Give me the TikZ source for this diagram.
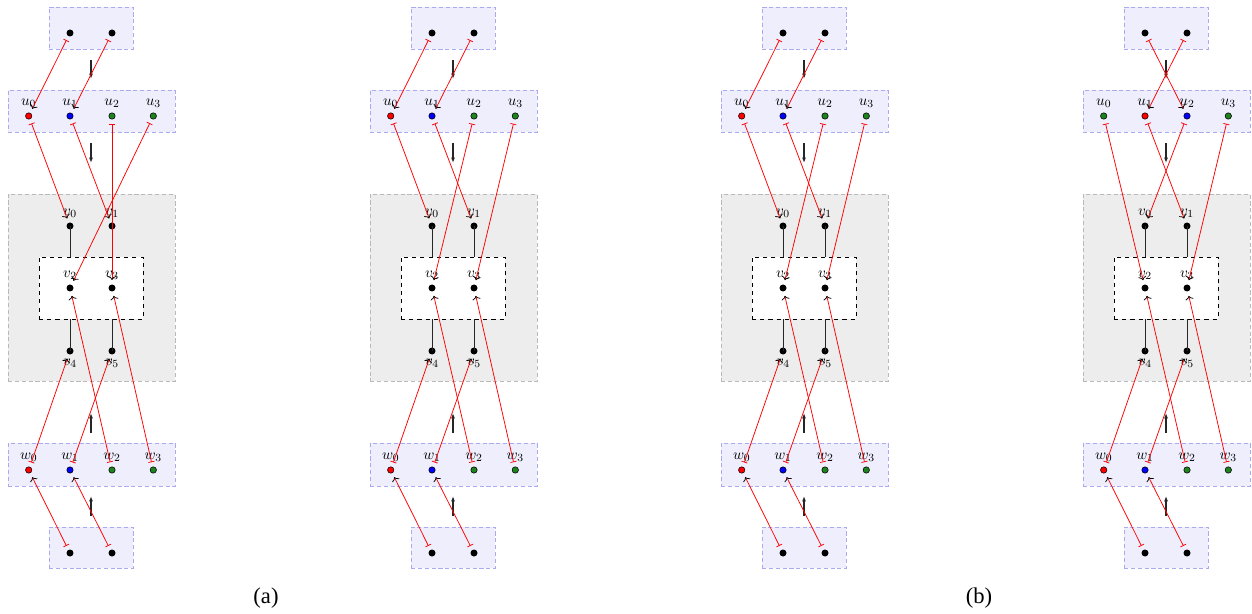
\documentclass[tikz,border=0pt]{standalone}
\usepackage[no-math]{fontspec}
\setmainfont{Liberation Serif}
\usetikzlibrary{arrows.meta}
\newcommand\PX{0.73pt}
\definecolor{boxfill}{RGB}{238,238,252}
\definecolor{boxline}{RGB}{170,170,240}
\definecolor{grayfill}{RGB}{237,237,237}
\definecolor{grayline}{RGB}{185,185,185}
\definecolor{dgreen}{RGB}{30,130,30}
\tikzset{
 lbox/.style={draw=boxline, densely dashed, fill=boxfill, line width=0.5pt, inner sep=0},
 gbox/.style={draw=grayline, densely dashed, fill=grayfill, line width=0.5pt, inner sep=0},
 dbox/.style={draw=black, dashed, fill=white, line width=0.7pt, inner sep=0},
 bdot/.style={circle, inner sep=0, outer sep=0, minimum size={16*\PX},
   path picture={\fill[black] (path picture bounding box.center) circle[radius={3.5*\PX}];}},
 cdot/.style={circle, inner sep=0, outer sep=0, minimum size={16*\PX},
   path picture={\filldraw[fill=#1, draw=black, line width=0.4pt] (path picture bounding box.center) circle[radius={3.2*\PX}];}},
 rline/.style={red, line width=0.55pt, {Bar[red,width=4.5pt]}-{To[black]}},
 vline/.style={black!85, line width=0.7pt},
 flow/.style={black!85, line width=0.8pt, -{Latex[length=4pt,width=3pt]}},
 lbl/.style={inner sep=0pt, font=\fontsize{11}{13}\selectfont},
 captext/.style={font=\fontsize{16.5}{19}\selectfont},
}
\begin{document}
\begin{tikzpicture}[x=0.73pt, y=-0.73pt]
\useasboundingbox (0,0) rectangle (1252,614);
\foreach \p/\off/\ca/\cb/\cc/\cd/\ta/\tb/\va/\vb/\vc/\vd in {
 A/0/red/blue/dgreen/dgreen/0/1/0/1/3/2,
 B/362/red/blue/dgreen/dgreen/0/1/0/1/2/3,
 C/713/red/blue/dgreen/dgreen/0/1/0/1/2/3,
 D/1075/dgreen/red/blue/dgreen/2/1/2/1/0/3}{
\begin{scope}[shift={(\off,0)}]
 % boxes
 \node[lbox, minimum width={84*\PX}, minimum height={42*\PX}] (\p-top) at (91,28) {};
 \node[lbox, minimum width={167*\PX}, minimum height={42*\PX}] (\p-ubox) at (91.5,111) {};
 \node[gbox, minimum width={167*\PX}, minimum height={187*\PX}] (\p-gbox) at (91.5,287.5) {};
 \node[dbox, minimum width={104*\PX}, minimum height={62*\PX}] (\p-dash) at (91,288) {};
 \node[lbox, minimum width={167*\PX}, minimum height={43*\PX}] (\p-wbox) at (91.5,464.5) {};
 \node[lbox, minimum width={84*\PX}, minimum height={41*\PX}] (\p-bot) at (91,547.5) {};
 % dots
 \node[bdot] (\p-t0) at (70,33) {};
 \node[bdot] (\p-t1) at (112,33) {};
 \node[cdot=\ca, label={[lbl]above:$u_0$}] (\p-u0) at (28.7,116) {};
 \node[cdot=\cb, label={[lbl]above:$u_1$}] (\p-u1) at (70,116) {};
 \node[cdot=\cc, label={[lbl]above:$u_2$}] (\p-u2) at (112,116) {};
 \node[cdot=\cd, label={[lbl]above:$u_3$}] (\p-u3) at (153.3,116) {};
 \node[bdot, label={[lbl]above:$v_0$}] (\p-v0) at (70,226) {};
 \node[bdot, label={[lbl]above:$v_1$}] (\p-v1) at (112,226) {};
 \node[bdot, label={[lbl]above:$v_2$}] (\p-v2) at (70,288) {};
 \node[bdot, label={[lbl]above:$v_3$}] (\p-v3) at (112,288) {};
 \node[bdot, label={[lbl]below:$v_4$}] (\p-v4) at (70,351) {};
 \node[bdot, label={[lbl]below:$v_5$}] (\p-v5) at (112,351) {};
 \node[cdot=red, label={[lbl]above:$w_0$}] (\p-w0) at (28.7,470) {};
 \node[cdot=blue, label={[lbl]above:$w_1$}] (\p-w1) at (70,470) {};
 \node[cdot=dgreen, label={[lbl]above:$w_2$}] (\p-w2) at (112,470) {};
 \node[cdot=dgreen, label={[lbl]above:$w_3$}] (\p-w3) at (153.3,470) {};
 \node[bdot] (\p-b0) at (70,553) {};
 \node[bdot] (\p-b1) at (112,553) {};
 % black links to the dashed box
 \draw[vline] (\p-v0.center) -- (\p-v0.center |- \p-dash.north);
 \draw[vline] (\p-v1.center) -- (\p-v1.center |- \p-dash.north);
 \draw[vline] (\p-v4.center) -- (\p-v4.center |- \p-dash.south);
 \draw[vline] (\p-v5.center) -- (\p-v5.center |- \p-dash.south);
 % flow arrows
 \coordinate (\p-f1s) at (91,60);  \coordinate (\p-f1e) at (91,79);
 \coordinate (\p-f2s) at (91,143); \coordinate (\p-f2e) at (91,163);
 \coordinate (\p-f3s) at (91,433); \coordinate (\p-f3e) at (91,413);
 \coordinate (\p-f4s) at (91,516); \coordinate (\p-f4e) at (91,496);
 \draw[flow] (\p-f1s) -- (\p-f1e);
 \draw[flow] (\p-f2s) -- (\p-f2e);
 \draw[flow] (\p-f3s) -- (\p-f3e);
 \draw[flow] (\p-f4s) -- (\p-f4e);
 % red connectors
 \draw[rline] (\p-t0) -- (\p-u\ta);
 \draw[rline] (\p-t1) -- (\p-u\tb);
 \draw[rline] (\p-u0) -- (\p-v\va);
 \draw[rline] (\p-u1) -- (\p-v\vb);
 \draw[rline] (\p-u2) -- (\p-v\vc);
 \draw[rline] (\p-u3) -- (\p-v\vd);
 \draw[rline] (\p-w0) -- (\p-v4);
 \draw[rline] (\p-w1) -- (\p-v5);
 \draw[rline] (\p-w2) -- (\p-v2);
 \draw[rline] (\p-w3) -- (\p-v3);
 \draw[rline] (\p-b0) -- (\p-w0);
 \draw[rline] (\p-b1) -- (\p-w1);
\end{scope}
}
\node[captext] (capa) at (266,598) {(a)};
\node[captext] (capb) at (979,598) {(b)};
\end{tikzpicture}
\end{document}
